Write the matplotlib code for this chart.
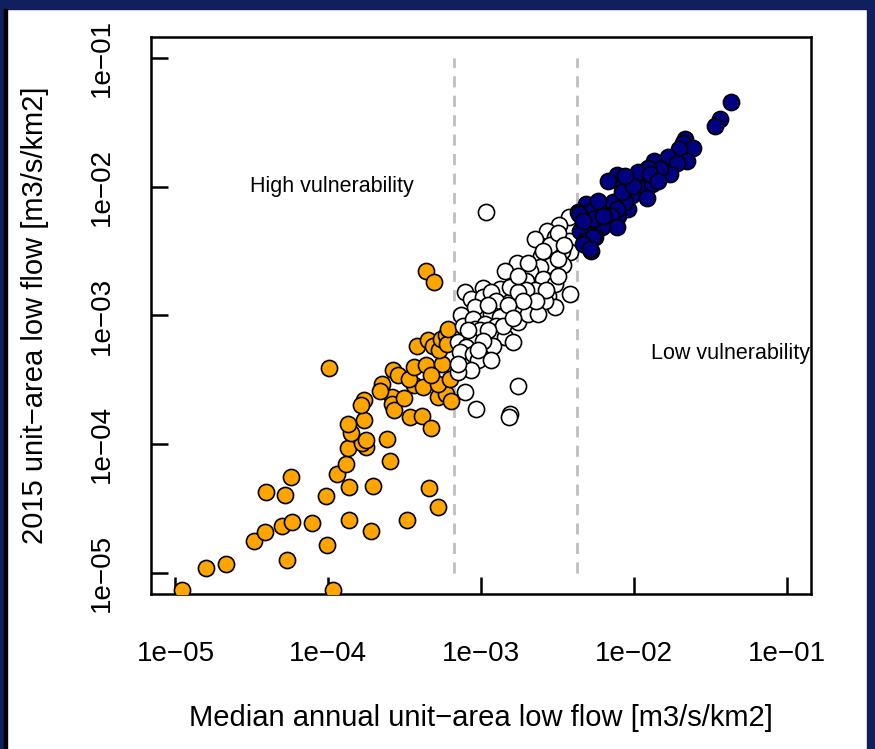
import numpy as np
import matplotlib
matplotlib.use("Agg")
import matplotlib.pyplot as plt
from matplotlib.patches import Rectangle

plt.rcParams["font.family"] = ["Liberation Sans", "DejaVu Sans"]

# log10 values: x = median annual unit-area low flow,
# y = 2015 unit-area low flow (both m3/s/km2)
high_logx = [-4.954, -4.797, -4.669, -4.489, -4.414, -4.303, -4.239, -4.106, -4.405, -4.281,
             -4.246, -4.270, -3.970, -4.007, -3.862, -3.719, -3.483, -3.282, -3.340, -4.014,
             -3.861, -3.710, -3.941, -3.885, -3.597, -3.616, -3.869, -3.751, -3.777, -3.751,
             -3.849, -3.868, -3.769, -3.462, -3.386, -3.330, -3.763, -3.785, -3.582, -3.582,
             -3.569, -3.651, -3.664, -3.502, -3.280, -3.228, -3.195, -3.439, -3.382, -3.282,
             -3.575, -3.544, -3.473, -3.441, -3.359, -3.254, -3.325, -3.203, -3.418, -3.348,
             -3.311, -3.275, -3.260, -3.228, -3.221, -3.216, -3.992, -3.357, -3.310]
high_logy = [-5.13, -4.961, -4.926, -4.750, -4.678, -4.636, -4.601, -4.609, -4.368, -4.395,
             -4.256, -4.899, -5.13, -4.777, -4.584, -4.672, -4.589, -4.486, -4.339, -4.402,
             -4.331, -4.326, -4.233, -4.155, -4.126, -3.957, -4.025, -4.021, -3.992, -3.963,
             -3.912, -3.843, -3.808, -3.785, -3.779, -3.871, -3.653, -3.695, -3.633, -3.688,
             -3.736, -3.530, -3.588, -3.642, -3.629, -3.610, -3.667, -3.540, -3.552, -3.535,
             -3.419, -3.461, -3.494, -3.403, -3.382, -3.374, -3.465, -3.495, -3.235, -3.188,
             -3.233, -3.266, -3.181, -3.155, -3.219, -3.101, -3.409, -2.651, -2.740]

mid_logx = [-2.969, -2.423, -2.489, -2.565, -2.644, -2.517, -2.425, -2.418, -2.473, -2.550,
            -2.605, -2.539, -2.543, -2.462, -2.615, -2.762, -2.845, -2.681, -2.592, -2.703,
            -2.517, -2.495, -2.418, -2.648, -2.703, -2.561, -2.517, -2.582, -2.659, -2.790,
            -2.834, -2.877, -2.812, -2.757, -2.736, -2.845, -2.757, -2.692, -2.626, -2.987,
            -3.107, -3.064, -2.987, -2.932, -2.900, -3.041, -2.932, -2.954, -2.877, -3.129,
            -3.118, -3.052, -3.041, -2.976, -2.900, -3.009, -2.889, -2.845, -2.790, -3.151,
            -3.064, -3.096, -2.921, -3.140, -3.052, -3.020, -2.932, -3.064, -3.151, -3.151,
            -3.107, -2.757, -3.035, -2.812, -2.816, -2.593, -2.495, -2.692, -2.757, -2.574,
            -2.639, -2.725, -2.823, -2.856, -2.954, -2.987, -3.085, -3.020, -2.790, -2.495,
            -2.456]
mid_logy = [-2.194, -2.233, -2.295, -2.347, -2.405, -2.393, -2.426, -2.509, -2.496, -2.457,
            -2.535, -2.587, -2.612, -2.612, -2.626, -2.595, -2.651, -2.651, -2.716, -2.729,
            -2.754, -2.690, -2.837, -2.806, -2.801, -2.845, -2.936, -2.884, -2.936, -2.897,
            -2.832, -2.793, -2.781, -2.819, -2.922, -2.982, -3.052, -2.987, -2.987, -2.785,
            -2.819, -2.871, -2.858, -2.819, -2.884, -2.936, -2.987, -2.922, -3.013, -3.000,
            -3.078, -3.026, -3.103, -3.064, -3.078, -3.116, -3.155, -3.168, -3.207, -3.207,
            -3.194, -3.246, -3.233, -3.284, -3.297, -3.349, -3.349, -3.426, -3.440, -3.374,
            -3.595, -3.548, -3.723, -3.767, -3.788, -2.496, -2.558, -2.589, -2.690, -2.806,
            -2.884, -2.884, -2.922, -3.078, -3.116, -3.194, -3.116, -3.271, -3.023, -2.357,
            -2.457]

low_logx = [-1.363, -1.435, -1.466, -1.667, -1.675, -1.615, -1.704, -1.654, -1.776, -1.716,
            -1.763, -1.869, -1.828, -1.905, -1.982, -1.927, -1.970, -1.923, -1.883, -1.894,
            -2.110, -2.170, -2.080, -2.014, -1.915, -2.036, -2.146, -2.178, -2.102, -2.058,
            -2.134, -2.113, -2.146, -2.113, -2.211, -2.244, -2.310, -2.277, -2.364, -2.320,
            -2.353, -2.254, -2.320, -2.277, -2.360, -2.266, -2.331, -2.266, -2.331, -2.287,
            -2.080, -2.233, -2.200, -2.003, -1.839, -2.056]
low_logy = [-1.341, -1.477, -1.527, -1.630, -1.663, -1.699, -1.711, -1.802, -1.773, -1.816,
            -1.905, -1.798, -1.863, -1.859, -1.912, -1.938, -1.889, -2.005, -1.979, -1.902,
            -1.907, -1.953, -2.000, -2.062, -2.089, -2.173, -2.160, -2.160, -2.225, -2.122,
            -2.122, -2.173, -2.225, -2.316, -2.312, -2.238, -2.134, -2.186, -2.199, -2.289,
            -2.341, -2.393, -2.419, -2.496, -2.209, -2.250, -2.264, -2.393, -2.444, -2.483,
            -2.044, -2.109, -2.225, -1.992, -1.953, -1.915]

thresholds = [6.65e-4, 4.27e-3]
decade_ticks = [1e-5, 1e-4, 1e-3, 1e-2, 1e-1]
tick_labels = ["1e\u221205", "1e\u221204", "1e\u221203", "1e\u221202", "1e\u221201"]

fig = plt.figure(figsize=(8.75, 7.49), dpi=100)
ax = fig.add_axes([151/875, 1 - 594/749, 660/875, 557/749])

mk = dict(s=135, edgecolors="black", linewidths=1.2, zorder=3)
ax.scatter(10**np.array(high_logx), 10**np.array(high_logy), c="orange", **mk)
ax.scatter(10**np.array(mid_logx), 10**np.array(mid_logy), c="white", **mk)
ax.scatter(10**np.array(low_logx), 10**np.array(low_logy), c="navy", **mk)

ax.vlines(thresholds, 1e-5, 1e-1, colors="#bebebe", linestyles=(0, (4, 3)), linewidth=2, zorder=1)

ax.text(10**-3.974, 1e-2, "High vulnerability", ha="center", va="center", fontsize=15.5)
ax.text(10**-1.367, 10**-3.295, "Low vulnerability", ha="center", va="center",
        fontsize=15.5, clip_on=False)

ax.set_xscale("log"); ax.set_yscale("log")
ax.set_xlim(10**-5.16, 10**-0.84); ax.set_ylim(10**-5.16, 10**-0.84)
ax.set_xticks(decade_ticks); ax.set_xticklabels(tick_labels)
ax.set_yticks(decade_ticks); ax.set_yticklabels(tick_labels, rotation=90, va="center")
ax.minorticks_off()
ax.tick_params(direction="in", length=12, width=1.8, labelsize=20, color="black")
ax.tick_params(axis="x", pad=34)
ax.tick_params(axis="y", pad=26)
for s in ax.spines.values():
    s.set_linewidth(1.8)

ax.set_xlabel("Median annual unit\u2212area low flow [m3/s/km2]", fontsize=21)
ax.set_ylabel("2015 unit\u2212area low flow [m3/s/km2]", fontsize=21)
ax.xaxis.set_label_coords(0.5, -124/557)
ax.xaxis.label.set_va("center")
ax.yaxis.set_label_coords(-116/660, 0.5)
ax.yaxis.label.set_va("center")

# slide frame around the screenshot
navy = "#101f5e"
fig.patches.append(Rectangle((0, 1 - 9/749), 1, 9/749, transform=fig.transFigure, color=navy, zorder=10))
fig.patches.append(Rectangle((0, 0), 4/875, 1, transform=fig.transFigure, color=navy, zorder=10))
fig.patches.append(Rectangle((4/875, 0), 3/875, 1 - 9/749, transform=fig.transFigure, color="black", zorder=10))
fig.patches.append(Rectangle((867/875, 0), 8/875, 1, transform=fig.transFigure, color=navy, zorder=10))

fig.savefig("out.png", dpi=100)
